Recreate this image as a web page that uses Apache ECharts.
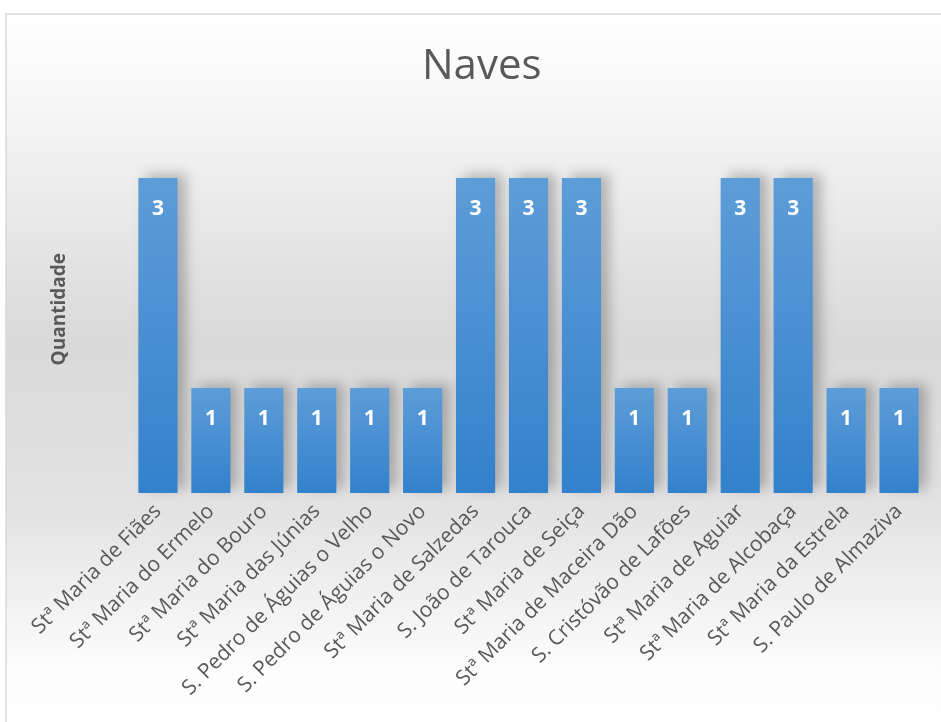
<!DOCTYPE html>
<html><head><meta charset="utf-8">
<script src="https://cdn.jsdelivr.net/npm/echarts@6/dist/echarts.min.js"></script>
<style>html,body{margin:0;padding:0;background:#fff}#c{width:941px;height:722px}</style>
</head><body><div id="c"></div>
<script>
const categories = ["Stª Maria de Fiães","Stª Maria do Ermelo","Stª Maria do Bouro","Stª Maria das Júnias","S. Pedro de Águias o Velho","S. Pedro de Águias o Novo","Stª Maria de Salzedas","S. João de Tarouca","Stª Maria de Seiça","Stª Maria de Maceira Dão","S. Cristóvão de Lafões","Stª Maria de Aguiar","Stª Maria de Alcobaça","Stª Maria da Estrela","S. Paulo de Almaziva"];
const values = [3,1,1,1,1,1,3,3,3,1,1,3,3,1,1];
const titleText = "Naves";
const yName = "Quantidade";

const chart = echarts.init(document.getElementById('c'));
chart.setOption({
  animation:false,
  graphic:[{
    type:'rect', z:-10, silent:true,
    shape:{x:6,y:14,width:960,height:730},
    style:{
      fill:new echarts.graphic.LinearGradient(0,0,0,1,[
        {offset:0,color:'#ffffff'},
        {offset:0.12,color:'#f7f7f7'},
        {offset:0.45,color:'#d9d9d9'},
        {offset:0.68,color:'#e3e3e3'},
        {offset:0.9,color:'#fdfdfd'},
        {offset:1,color:'#ffffff'}
      ]),
      stroke:'#d9d9d9', lineWidth:1.5
    }
  }],
  title:{text:titleText,left:417,top:41,
    textStyle:{fontFamily:'Open Sans',fontSize:42,fontWeight:'normal',color:'#595959'}},
  grid:{left:131.5,right:15.5,top:125.5,bottom:229},
  xAxis:{type:'category',data:categories,
    axisLine:{show:false},axisTick:{show:false},
    axisLabel:{rotate:45,interval:0,margin:15,color:'#595959',fontFamily:'Open Sans',fontSize:21}},
  yAxis:{type:'value',min:0,max:3.5,interval:0.5,
    name:yName,nameLocation:'middle',nameGap:62,nameRotate:90,
    nameTextStyle:{color:'#595959',fontFamily:'Open Sans',fontWeight:'bold',fontSize:19}},
  series:[{type:'bar',data:values,barCategoryGap:'26%',
    itemStyle:{
      color:new echarts.graphic.LinearGradient(0,0,0,1,[
        {offset:0,color:'#5d9dd8'},{offset:1,color:'#3381cc'}]),
      shadowColor:'rgba(0,0,0,0.25)',shadowBlur:12,shadowOffsetX:8,shadowOffsetY:-4
    },
    label:{show:true,position:'insideTop',distance:21,color:'#ffffff',
      fontFamily:'Open Sans',fontWeight:'bold',fontSize:21}
  }]
});
chart.setOption({yAxis:{axisLabel:{show:false},axisLine:{show:false},axisTick:{show:false},splitLine:{show:false}}});
</script></body></html>
